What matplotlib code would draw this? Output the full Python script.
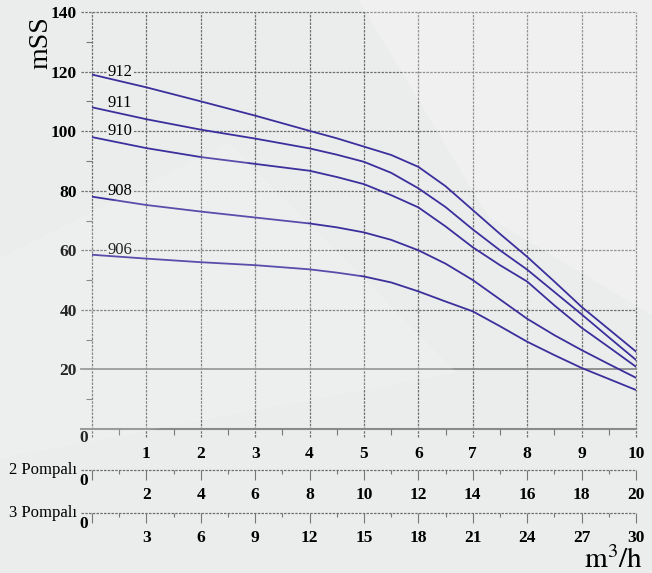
import numpy as np
import matplotlib.pyplot as plt
from matplotlib.patches import Polygon

# debi (m3/h) ve basma yuksekligi (mSS) okumalari
q = [0, 1, 2, 3, 4, 4.5, 5, 5.5, 6, 6.5, 7, 7.5, 8, 8.5, 9, 9.5, 10]
h912 = [119, 114.7, 110, 105.2, 100.1, 97.6, 94.8, 92, 88, 81.5, 73.5, 65.5, 57.8, 49.5, 41, 33.5, 26]
h911 = [108, 104, 100.5, 97.5, 94.2, 92.1, 89.7, 86, 80.8, 74.5, 67, 60, 53.5, 46, 38.5, 30.8, 23.2]
h910 = [98, 94.3, 91.3, 89, 86.7, 84.6, 82.2, 78.5, 74.4, 68, 61, 55, 49.5, 41.5, 34, 27.5, 20.9]
h908 = [78, 75.2, 73, 71, 69, 67.7, 66, 63.5, 60, 55.5, 50, 43.5, 37, 31.5, 26.5, 21.8, 17.2]
h906 = [58.5, 57.2, 56, 55, 53.6, 52.5, 51.2, 49.2, 46.2, 42.8, 39.5, 34.5, 29.3, 24.8, 20.5, 16.8, 13.1]
curves = [("912", h912), ("911", h911), ("910", h910), ("908", h908), ("906", h906)]
label_y = [120, 109.5, 100, 80, 60]

yticks = [20, 40, 60, 80, 100, 120, 140]
xticks = list(range(11))
pompa = [("2 Pompalı", 2), ("3 Pompalı", 3)]

W, H = 652, 573
bg = '#ebecec'
grid_c = '#707070'
line_c = '#3b2f9c'
plt.rcParams['font.family'] = ['Liberation Serif', 'DejaVu Serif']
plt.rcParams['mathtext.fontset'] = 'stix'

fig = plt.figure(figsize=(W / 100, H / 100), dpi=100, facecolor=bg)
# hafif arka plan desenleri
fig.patches.append(Polygon([[0.55, 1], [1, 1], [1, 0.45], [0.75, 0.62]], closed=True,
                           transform=fig.transFigure, fc='white', alpha=0.25, ec='none', zorder=0))
fig.patches.append(Polygon([[0, 0.55], [0.35, 0.75], [0.7, 0.35], [0, 0.2]], closed=True,
                           transform=fig.transFigure, fc='white', alpha=0.15, ec='none', zorder=0))

L, R = 92 / W, 636 / W
ax = fig.add_axes([L, (H - 429) / H, R - L, 417 / H])
ax.set_facecolor('none')
ax.set_xlim(0, 10)
ax.set_ylim(0, 140)
for s in ax.spines.values():
    s.set_visible(False)

ext_y = 8 / 417
ext_x = 11 / 544
for x in xticks:
    ax.axvline(x, ymin=-ext_y, ymax=1, color=grid_c, lw=0.9, ls=(0, (2, 1)), clip_on=False, zorder=1)
for y in yticks:
    if y == 20:
        ax.axhline(y, xmin=-ext_x, color='#8a8a8a', lw=1.3, clip_on=False, zorder=1)
    else:
        ax.axhline(y, xmin=-ext_x, color=grid_c, lw=0.9, ls=(0, (2, 1)), clip_on=False, zorder=1)
ax.axhline(0, xmin=-ext_x, color='#8a8a8a', lw=1.5, clip_on=False, zorder=1)

for (name, h), ly in zip(curves, label_y):
    ax.plot(q, h, color=line_c, lw=1.3, zorder=3)
    ax.text(0.29, ly, name, fontsize=12, ha='left', va='center', zorder=2,
            bbox=dict(fc=bg, ec='none', pad=0.5))

ax.set_yticks(yticks)
ax.set_yticklabels([str(v) for v in yticks])
ax.set_yticks(range(10, 140, 20), minor=True)
ax.tick_params(axis='y', which='major', length=0, pad=11, labelsize=12.5)
ax.tick_params(axis='y', which='minor', length=4, color='#777', width=0.8)
ax.set_xticks(xticks)
ax.set_xticklabels([''] + [str(v) for v in xticks[1:]])
ax.set_xticks(np.arange(0.5, 10, 1), minor=True)
ax.tick_params(axis='x', which='major', length=0, pad=12, labelsize=12.5)
ax.tick_params(axis='x', which='minor', length=4, color='#777', width=0.8)
for lab in ax.get_xticklabels() + ax.get_yticklabels():
    lab.set_fontweight('bold')
ax.annotate('0', xy=(0, 0), xytext=(-8, -9), textcoords='offset pixels', ha='center',
            va='center', fontsize=12.5, fontweight='bold', annotation_clip=False)

fig.text(41 / W, 1 - 16 / H, 'mSS', rotation=90, fontsize=20, ha='center', va='top')
fig.text(643 / W, 1 - 568 / H, r'$\mathrm{m^3/h}$', fontsize=21, ha='right', va='baseline')

for (name, k), ypix in zip(pompa, [470, 513]):
    axp = fig.add_axes([L, (H - ypix) / H, R - L, 1e-4])
    axp.set_facecolor('none')
    axp.set_xlim(0, 10)
    for s in axp.spines.values():
        s.set_visible(False)
    axp.plot([-ext_x, 1], [0, 0], transform=axp.transAxes, color=grid_c, lw=0.9,
             ls=(0, (2, 1)), clip_on=False)
    axp.set_yticks([])
    axp.set_xticks(xticks)
    axp.set_xticklabels([''] + [str(v * k) for v in xticks[1:]])
    axp.set_xticks(np.arange(0.5, 10, 1), minor=True)
    axp.tick_params(axis='x', which='major', length=7, color='#777', width=0.8, pad=5,
                    labelsize=12.5)
    axp.tick_params(axis='x', which='minor', length=3, color='#777', width=0.8)
    for lab in axp.get_xticklabels():
        lab.set_fontweight('bold')
    axp.annotate('0', xy=(0, 0), xytext=(-8, -11), textcoords='offset pixels', ha='center',
                 va='center', fontsize=12.5, fontweight='bold', annotation_clip=False)
    fig.text(77 / W, 1 - ypix / H, name, fontsize=12, ha='right', va='center')

fig.savefig('out.png', dpi=100, facecolor=bg)
